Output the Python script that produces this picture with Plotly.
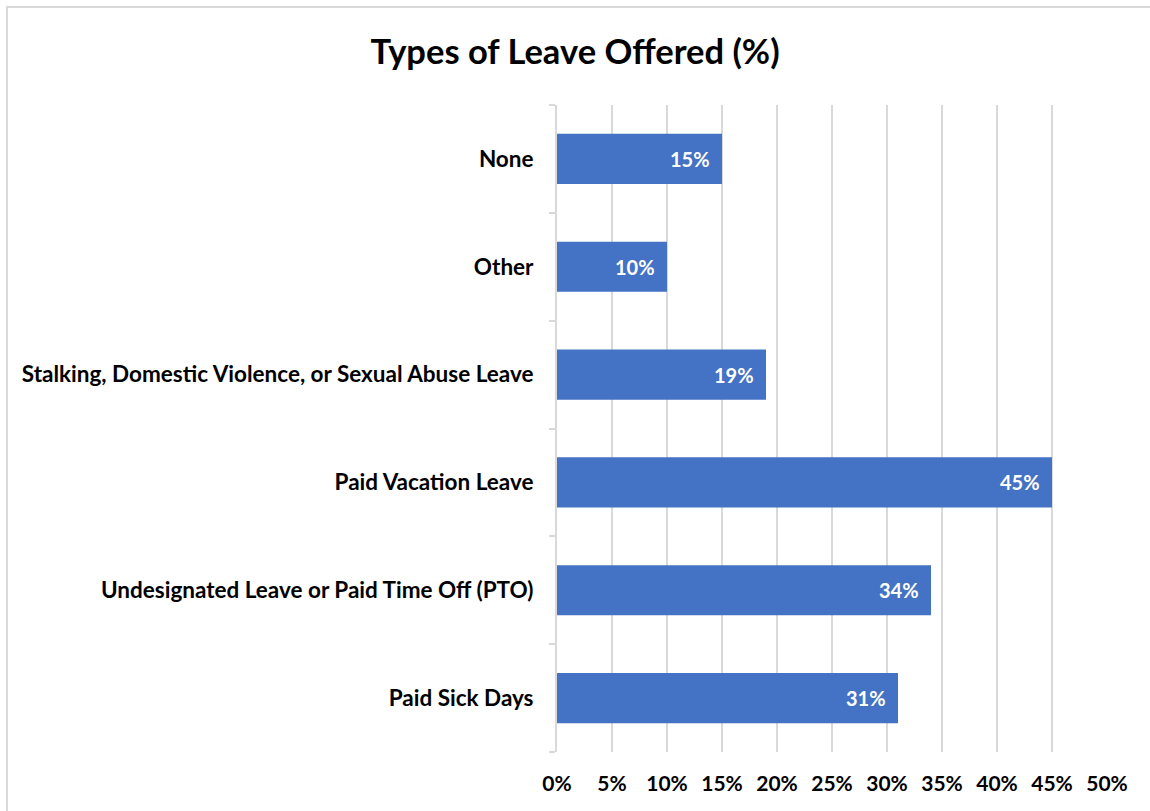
import plotly.graph_objects as go

# Categories listed bottom to top, as they stack on the category axis
categories = [
    "Paid Sick Days",
    "Undesignated Leave or Paid Time Off (PTO)",
    "Paid Vacation Leave",
    "Stalking, Domestic Violence, or Sexual Abuse Leave",
    "Other",
    "None",
]
shares = [31, 34, 45, 19, 10, 15]
tick_vals = [0, 5, 10, 15, 20, 25, 30, 35, 40, 45, 50]
tick_text = [f"{v}%" for v in tick_vals]

BLUE = "#4472C4"
GRID = "#d9d9d9"
FONT = "Lato, 'Open Sans', sans-serif"

W, H = 1150, 811
L, R, T, B = 557, 43, 105, 59
pw, ph = W - L - R, H - T - B


def px_x(p):
    return (p - L) / pw


def px_y(p):
    return (H - B - p) / ph


fig = go.Figure(
    go.Bar(
        y=categories,
        x=shares,
        orientation="h",
        marker=dict(color=BLUE, line=dict(width=0)),
        hoverinfo="skip",
    )
)

# Value labels sit inside each bar, just short of its end
for cat, val in zip(categories, shares):
    fig.add_annotation(
        x=val,
        y=cat,
        xref="x",
        yref="y",
        text=f"<b>{val}%</b>",
        showarrow=False,
        xanchor="right",
        yanchor="middle",
        xshift=-10,
        font=dict(family=FONT, size=20, color="white"),
    )

fig.update_layout(
    width=W,
    height=H,
    margin=dict(l=L, r=R, t=T, b=B, autoexpand=False),
    paper_bgcolor="white",
    plot_bgcolor="white",
    showlegend=False,
    bargap=0.535,
    title=dict(
        text="<b>Types of Leave Offered (%)</b>",
        x=0.5,
        xanchor="center",
        y=1 - 52 / H,
        yanchor="middle",
        font=dict(family=FONT, size=34.5, color="black"),
    ),
    font=dict(family=FONT, color="black"),
)

fig.update_xaxes(
    range=[0, 50],
    tickvals=tick_vals,
    ticktext=tick_text,
    showgrid=True,
    gridcolor=GRID,
    gridwidth=2,
    zeroline=False,
    showline=False,
    ticks="",
    tickfont=dict(family=FONT, size=21, color="black", weight="bold"),
    ticklabelstandoff=17,
)

fig.update_yaxes(
    categoryorder="array",
    categoryarray=categories,
    showgrid=False,
    showline=True,
    linecolor=GRID,
    linewidth=2,
    ticks="outside",
    tickson="boundaries",
    ticklen=6,
    tickcolor=GRID,
    tickwidth=2,
    tickfont=dict(family=FONT, size=22.5, color="black", weight="bold"),
    ticklabelstandoff=17,
)

# Outer chart frame
fig.add_shape(
    type="rect",
    xref="paper",
    yref="paper",
    x0=px_x(7),
    x1=px_x(W + 5),
    y0=px_y(H + 5),
    y1=px_y(7),
    line=dict(color=GRID, width=2),
    fillcolor="rgba(0,0,0,0)",
    layer="below",
)

fig.write_html("out.html")
